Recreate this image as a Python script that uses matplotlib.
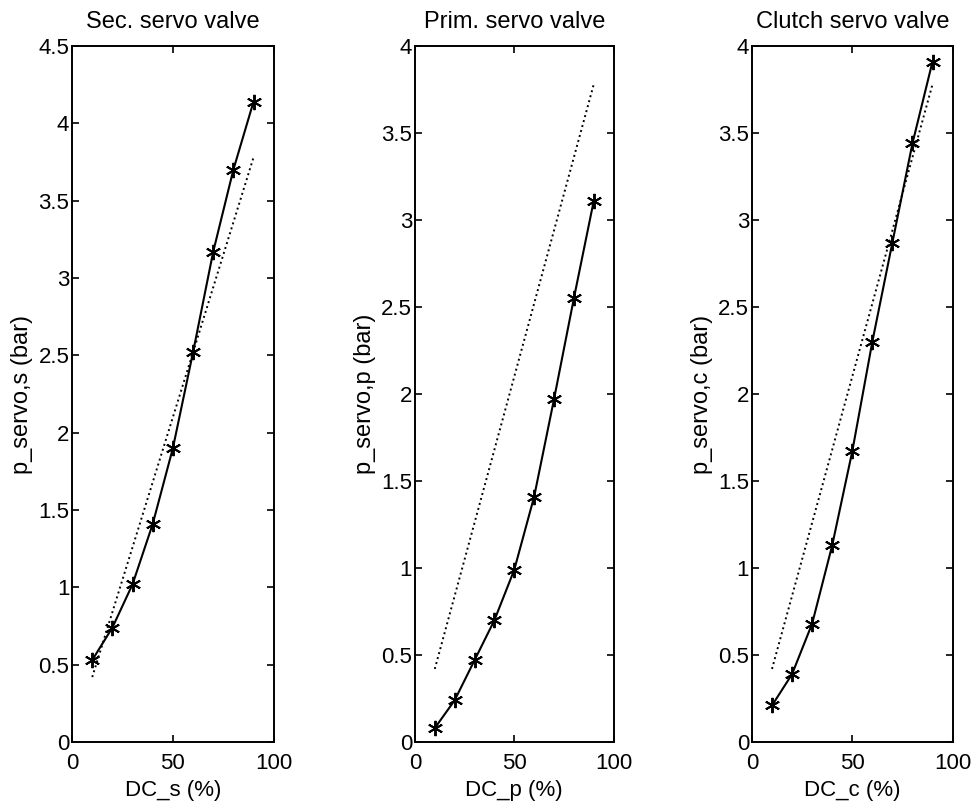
import numpy as np
import matplotlib
matplotlib.use("Agg")
import matplotlib.pyplot as plt

plt.rcParams['font.family'] = ['Liberation Sans', 'DejaVu Sans']

# duty cycle (%)
dc = [10, 20, 30, 40, 50, 60, 70, 80, 90]

# measured servo pressures (bar)
p_sec = [0.53, 0.74, 1.02, 1.41, 1.90, 2.52, 3.17, 3.70, 4.14]
p_prim = [0.08, 0.24, 0.47, 0.70, 0.99, 1.41, 1.97, 2.55, 3.11]
p_clutch = [0.21, 0.39, 0.68, 1.13, 1.67, 2.30, 2.87, 3.44, 3.91]

# linear model (dotted), end points
dc_lin = [10, 90]
p_lin = [0.42, 3.78]

titles = ["Sec. servo valve", "Prim. servo valve", "Clutch servo valve"]
xlabels = ["DC_s (%)", "DC_p (%)", "DC_c (%)"]
ylabels = ["p_servo,s (bar)", "p_servo,p (bar)", "p_servo,c (bar)"]
ymax = [4.5, 4, 4]
series = [p_sec, p_prim, p_clutch]

fig = plt.figure(figsize=(9.74, 8.07), dpi=100)
lefts = [0.074, 0.426, 0.772]
widths = [0.207, 0.204, 0.206]

for i in range(3):
    ax = fig.add_axes([lefts[i], 0.0805, widths[i], 0.8625])
    ax.plot(dc_lin, p_lin, 'k:', lw=1.4)
    ax.plot(dc, series[i], 'k-', lw=1.5, marker=(6, 2, 0),
            markersize=11, markeredgewidth=1.4)
    ax.set_xlim(0, 100)
    ax.set_ylim(0, ymax[i])
    ax.set_xticks([0, 50, 100])
    yt = np.arange(0, ymax[i] + 0.01, 0.5)
    ax.set_yticks(yt)
    ax.set_yticklabels([('%g' % v) for v in yt])
    ax.tick_params(direction='in', top=True, right=True, length=5,
                   width=1.2, labelsize=16)
    ax.tick_params(axis='y', pad=2)
    ax.tick_params(axis='x', pad=8)
    for s in ax.spines.values():
        s.set_linewidth(1.4)
    ax.set_title(titles[i], fontsize=17, pad=13)
    ax.set_xlabel(xlabels[i], fontsize=16, labelpad=4)
    ax.set_ylabel(ylabels[i], fontsize=17, labelpad=4)

fig.savefig("out.png", dpi=100)
